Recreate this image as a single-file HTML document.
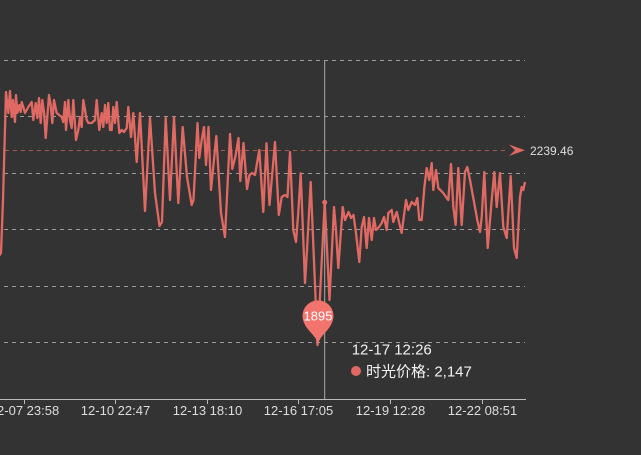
<!DOCTYPE html>
<html><head><meta charset="utf-8"><style>
html,body{margin:0;padding:0;background:#333;}
svg{display:block;}
</style></head><body>
<svg width="641" height="455" viewBox="0 0 641 455" xmlns="http://www.w3.org/2000/svg">
<rect x="0" y="0" width="641" height="455" fill="#333"/>
<g stroke="#9a9a9a" stroke-width="1" stroke-dasharray="4,4" fill="none">
<line x1="4" y1="60.5" x2="525" y2="60.5"/>
<line x1="4" y1="116.5" x2="525" y2="116.5"/>
<line x1="4" y1="173.5" x2="525" y2="173.5"/>
<line x1="4" y1="229.5" x2="525" y2="229.5"/>
<line x1="4" y1="286.5" x2="525" y2="286.5"/>
<line x1="4" y1="342.5" x2="525" y2="342.5"/>
</g>
<line x1="5" y1="150.5" x2="508" y2="150.5" stroke="#a85a56" stroke-width="1" stroke-dasharray="4,4"/>
<path d="M525 150.3 L509 144.5 L515 150.3 L509 156 Z" fill="#e06a63"/>
<text x="530" y="155" font-family="Liberation Sans, sans-serif" font-size="12" fill="#ddd">2239.46</text>
<line x1="0" y1="399.5" x2="526" y2="399.5" stroke="#bbb" stroke-width="1"/>
<g stroke="#bbb" stroke-width="1">
<line x1="24.5" y1="399" x2="24.5" y2="404"/>
<line x1="115.5" y1="399" x2="115.5" y2="404"/>
<line x1="207.5" y1="399" x2="207.5" y2="404"/>
<line x1="298.5" y1="399" x2="298.5" y2="404"/>
<line x1="390.5" y1="399" x2="390.5" y2="404"/>
<line x1="482.5" y1="399" x2="482.5" y2="404"/>
</g>
<g font-family="Liberation Sans, sans-serif" font-size="13" fill="#ddd" text-anchor="middle">
<text x="24.5" y="415">12-07 23:58</text>
<text x="115.5" y="415">12-10 22:47</text>
<text x="207.5" y="415">12-13 18:10</text>
<text x="298.5" y="415">12-16 17:05</text>
<text x="390.5" y="415">12-19 12:28</text>
<text x="482.5" y="415">12-22 08:51</text>
</g>
<line x1="324.7" y1="60" x2="324.7" y2="399" stroke="#aaa" stroke-width="1"/>
<polyline fill="none" stroke="#e06a63" stroke-width="2.3" stroke-linejoin="round" points="
-1,256 1,253 3,200 6,92 8.3,113 10,91 11.7,117 13,100 15,122 16,95 17.3,113 19.3,105 20.7,112 21.7,102 23.3,107 25,113 28.3,107 31.7,102 33.3,120 35.7,103 37.3,118 39,98 40.7,123 42.3,100 44,112 45.7,138 47.3,117 49,95 50.7,105 52.3,123 54,100 56.7,113 61.7,117 63.3,122 65,102 66,130 68.3,100 70,120 71.7,128 73.3,100 76,140 78.3,130 80,117 81.7,127 83.3,100 85,110 86.7,120 88.3,123 91.7,123 95,120 96.7,100 99.3,130 101.7,113 103.3,127 105,105 106.7,123 108.3,103 110,130 111.7,130 113.3,107 115,123 116.7,102 119.3,133 121.7,130 124,132 126.7,128 128.3,107 131,137 133.3,113 136.7,162 140,113 145,211 150,118 155,193 159.5,226 162,222 165.7,118 170,200 174,117 178.3,203 182.7,127 187,177 191.7,205 193.5,200 197.5,123 199.3,158 201.7,140 204,127 206,165 208.5,127 211,190 216.3,136 221,213 225,237 230,134 232.3,169 235.3,157 238.5,138 240.3,181 243.5,143 247,189 249.5,175 252,173 255,175 259.3,150 263.3,212 266.5,143.3 269.5,205 275,142 278.8,215 281.7,197 285,195 287.5,197 290,152 293.3,230 296,242 298.3,212 300.7,173.3 305,283 307,250 310.7,182 317.5,345 324.7,202.3 329.5,300 334,207 336,230 338.3,268 342.7,207 345,220 348.5,212 351,218 353.5,215 356,233 359.3,262 361.7,227 364,217 366.7,248 369,218 371.7,240 374,218 376,230 378.3,228 381.7,223 384,217 386.7,230 388.3,213 391.7,210 393.3,222 396.7,212 399,222 401.7,233 406,200 408.3,210 411.7,202 415,205 417.3,198 419.3,220 421.7,220 424.3,188 426.7,168 429.3,180 431.7,163 433.3,190 436,170 438.3,188 443.3,193 446.7,198 448.3,200 451,164 453.3,207 455.7,225 458.3,168 461.7,225 465,172 467.3,167 470,180 473.3,198 477.3,220 480,232 481.7,217 484.3,172 487.7,248 491.7,200 494.3,172 496.7,207 500,173 503.3,227 506.7,238 510.7,176 514,248 516.7,258 520,197 521.7,187 523.3,190 525,182"/>
<circle cx="324.7" cy="202.3" r="2.5" fill="#e06a63"/>
<path d="M318 345 C317 336, 307 331, 304 322.6 A15.5 15.5 0 1 1 332 322.6 C329 331, 319 336, 318 345 Z" fill="#f2746c"/>
<text x="318" y="320.5" font-family="Liberation Sans, sans-serif" font-size="13" fill="#fff" text-anchor="middle">1895</text>
<text x="351.7" y="354.5" font-family="Liberation Sans, sans-serif" font-size="15" fill="#f2f2f2">12-17 12:26</text>
<circle cx="356" cy="371" r="5" fill="#e06a63"/>
<text x="366" y="376.5" font-family="Liberation Sans, 'Noto Sans CJK SC', sans-serif" font-size="15" fill="#f2f2f2">时光价格: 2,147</text>
</svg>
</body></html>
